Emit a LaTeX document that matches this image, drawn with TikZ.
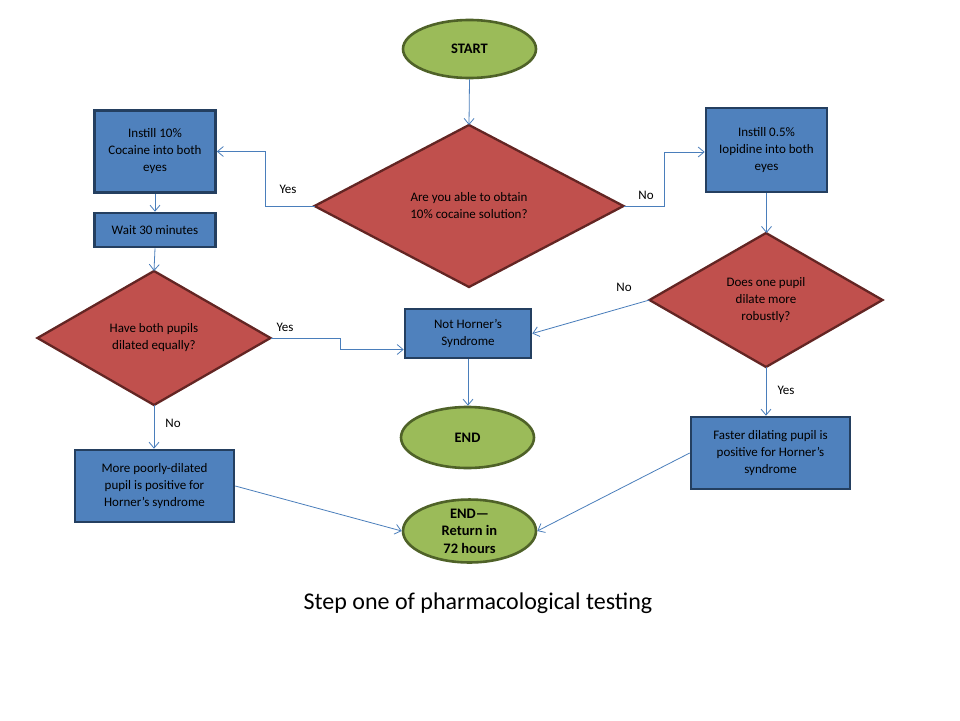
\documentclass[tikz,border=0pt]{standalone}
\usepackage{fontspec}
\setmainfont{Carlito}
\usetikzlibrary{shapes.geometric,arrows.meta,calc}
\definecolor{gfill}{HTML}{9BBB59}
\definecolor{gdraw}{HTML}{4F6228}
\definecolor{rfill}{HTML}{C0504D}
\definecolor{rdraw}{HTML}{632523}
\definecolor{bfill}{HTML}{4F81BD}
\definecolor{bdraw}{HTML}{243F60}
\definecolor{lcol}{HTML}{4A7EBB}
\tikzset{
  txt/.style={font=\fontsize{13}{17}\selectfont, align=center, text=black},
  term/.style={txt, ellipse, fill=gfill, draw=gdraw, line width=2.6pt, inner sep=0pt, font=\fontsize{14.5}{17.5}\selectfont\bfseries},
  decide/.style={txt, diamond, fill=rfill, draw=rdraw, line width=2.3pt, inner sep=0pt, shape aspect=1.9, outer sep=0pt},
  proc/.style={txt, rectangle, fill=bfill, draw=bdraw, line width=2.6pt, inner sep=0pt},
  conn/.style={draw=lcol, line width=0.8pt, -{Straight Barb[length=6pt,width=10pt,line width=0.8pt]}},
  lab/.style={font=\fontsize{13}{15}\selectfont, text=black},
}
\begin{document}
\begin{tikzpicture}[x=1pt,y=-1pt]
\fill[white] (0,0) rectangle (960,720);
\useasboundingbox (0,0) rectangle (960,720);

\node[term, minimum width=133pt, minimum height=58pt] (start) at (469.5,49) {START};
\node[decide, minimum width=309pt, minimum height=162pt] (d1) at (469,206) {Are you able to obtain\\10\% cocaine solution?};
\node[proc, minimum width=121pt, minimum height=82pt] (b1) at (155,151.5) {Instill 10\%\\Cocaine into both\\eyes};
\node[proc, minimum width=121pt, minimum height=34pt] (w30) at (155,230) {Wait 30 minutes};
\node[decide, minimum width=233pt, minimum height=134pt] (d2) at (154,338) {Have both pupils\\dilated equally?};
\node[proc, minimum width=126pt, minimum height=49pt] (nh) at (468,333.5) {Not Horner’s\\Syndrome};
\node[term, minimum width=133pt, minimum height=61pt] (end) at (467.5,437.5) {END};
\node[proc, minimum width=121pt, minimum height=84pt] (b2) at (766.5,150) {Instill 0.5\%\\Iopidine into both\\eyes};
\node[decide, minimum width=233pt, minimum height=134pt] (d3) at (766,300) {Does one pupil\\dilate more\\robustly?};
\node[proc, minimum width=159pt, minimum height=72pt] (fa) at (770.5,453) {Faster dilating pupil is\\positive for Horner’s\\syndrome};
\node[proc, minimum width=159pt, minimum height=72pt] (mp) at (154.5,486) {More poorly-dilated\\pupil is positive for\\Horner’s syndrome};
\node[term, minimum width=133pt, minimum height=58pt] (end2) at (469.5,531) {END—\\Return in\\72 hours};

\node[font=\fontsize{24}{28}\selectfont] (title) at (478,603) {Step one of pharmacological testing};

\draw[conn] (start.south) -- (d1.north);
\draw[conn] (d1.west) -- ++(-49,0) |- (b1.east);
\draw[conn] (b1.south) -- (w30.north);
\draw[conn] (w30.south) -- (d2.north);
\draw[conn] (d2.east) -- ++(70,0) |- ([yshift=-16pt]nh.west);
\draw[conn] (d2.south) -- (d2.south |- mp.north);
\draw[conn] (nh.south) -- (nh.south |- end.north);
\draw[conn] (d1.east) -- ++(41,0) |- ([yshift=-2pt]b2.west);
\draw[conn] (b2.south) -- (b2.south |- d3.north);
\draw[conn] (d3.west) -- (nh.east);
\draw[conn] (d3.south) -- (d3.south |- fa.north);
\draw[conn] (fa.west) -- (end2.east);
\draw[conn] (mp.east) -- (end2.west);

\node[lab] (l1) at (288,189) {Yes};
\node[lab] (l2) at (646,195) {No};
\node[lab] (l3) at (285,327) {Yes};
\node[lab] (l4) at (624,287) {No};
\node[lab] (l5) at (173,423) {No};
\node[lab] (l6) at (786,390) {Yes};
\end{tikzpicture}
\end{document}
